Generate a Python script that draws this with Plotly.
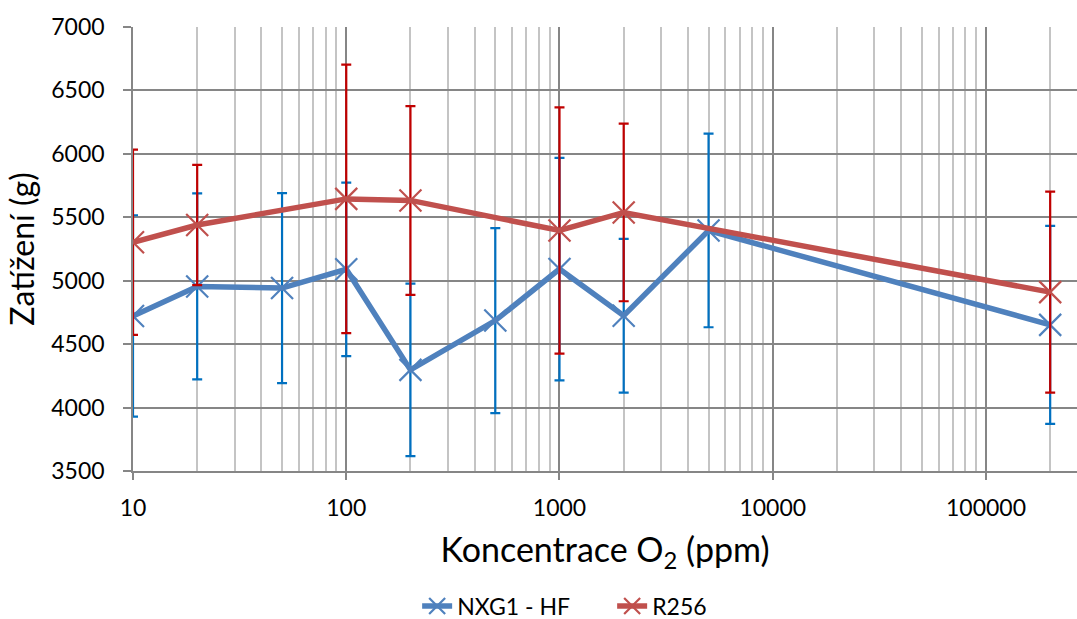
import plotly.graph_objects as go

# Data
conc_nxg = [10, 20, 50, 100, 200, 500, 1000, 2000, 5000, 200000]
load_nxg = [4722, 4955, 4942, 5090, 4297, 4686, 5092, 4724, 5396, 4652]
err_nxg = [794, 733, 749, 684, 680, 729, 877, 606, 763, 780]

conc_r256 = [10, 20, 100, 200, 1000, 2000, 200000]
load_r256 = [5303, 5439, 5645, 5633, 5396, 5538, 4910]
err_r256 = [730, 474, 1058, 744, 970, 700, 792]

x_ticks = [10, 100, 1000, 10000, 100000]
x_ticklabels = ["10", "100", "1000", "10000", "100000"]
y_ticks = [3500, 4000, 4500, 5000, 5500, 6000, 6500, 7000]

FONT = "Lato"

minor_vals = [m * d for d in [10, 100, 1000, 10000, 100000] for m in range(2, 10)]

fig = go.Figure()
fig.add_trace(go.Scatter(
    x=conc_nxg, y=load_nxg, name="NXG1 - HF", mode="lines+markers",
    line=dict(color="#4F81BD", width=5.5),
    marker=dict(symbol="x-thin", size=22, line=dict(color="#4F81BD", width=2.2)),
    error_y=dict(type="data", array=err_nxg, visible=True, color="#0070C0",
                 thickness=2.2, width=5),
))
fig.add_trace(go.Scatter(
    x=conc_r256, y=load_r256, name="R256", mode="lines+markers",
    line=dict(color="#C0504D", width=5.5),
    marker=dict(symbol="x-thin", size=22, line=dict(color="#C0504D", width=2.2)),
    error_y=dict(type="data", array=err_r256, visible=True, color="#C00000",
                 thickness=2.2, width=5),
))

fig.update_layout(
    width=1077, height=619,
    margin=dict(l=133, r=0, t=27, b=148),
    paper_bgcolor="white", plot_bgcolor="white",
    font=dict(family=FONT, size=23, color="#000000"),
    showlegend=True,
    legend=dict(orientation="h", xref="paper", x=0.301, xanchor="left",
                yref="container", y=0.021, yanchor="middle",
                entrywidth=150, entrywidthmode="pixels",
                font=dict(family=FONT, size=23)),
    xaxis=dict(
        type="log", range=[1, 5.4268], automargin=False,
        tickvals=x_ticks, ticktext=x_ticklabels,
        tickfont=dict(family=FONT, size=23),
        ticks="outside", ticklen=7, tickcolor="#868686", tickwidth=1.5,
        ticklabelstandoff=9,
        showgrid=True, gridcolor="#868686", gridwidth=1.5,
        showline=True, linecolor="#868686", linewidth=1.5,
        minor=dict(tickvals=minor_vals, showgrid=True, gridcolor="#C4C4C4", gridwidth=1.5, ticks=""),
        title=dict(text="Koncentrace O<sub>2</sub> (ppm)", font=dict(family=FONT, size=34), standoff=18),
        zeroline=False,
    ),
    yaxis=dict(
        range=[3500, 7000], tickvals=y_ticks, automargin=False,
        tickfont=dict(family=FONT, size=23),
        ticks="outside", ticklen=8, tickcolor="#868686", tickwidth=1.5,
        ticklabelstandoff=14,
        showgrid=True, gridcolor="#868686", gridwidth=1.5,
        showline=True, linecolor="#868686", linewidth=1.5,
        title=dict(text="Zatížení (g)", font=dict(family=FONT, size=32), standoff=7),
        zeroline=False,
    ),
)

fig.write_html("out.html", config={"displayModeBar": False},
               post_script="document.body.style.margin='0';document.body.style.overflow='hidden';")
